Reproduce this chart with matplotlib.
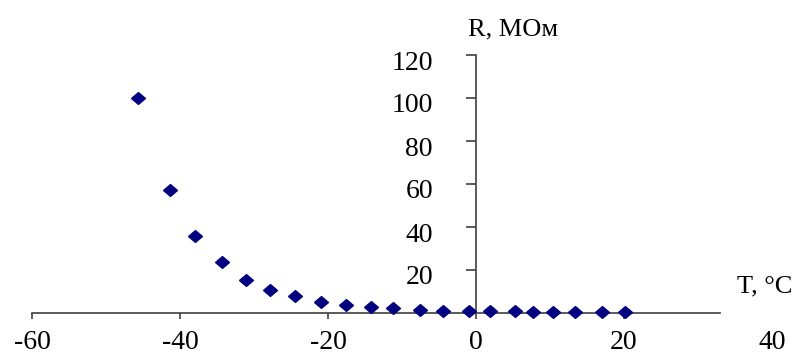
import matplotlib
matplotlib.use("Agg")
import matplotlib.pyplot as plt
import matplotlib.transforms as mtransforms

# temperature, deg C  /  resistance, MOhm
temps = [-45.7, -41.4, -38.0, -34.3, -31.1, -27.8, -24.5, -21.0, -17.6, -14.2, -11.2,
         -7.6, -4.5, -0.9, 1.9, 5.3, 7.7, 10.4, 13.4, 17.0, 20.1]
resist = [100, 57, 36, 23.6, 15.5, 10.5, 7.7, 5.3, 3.9, 2.9, 2.3,
          1.4, 0.8, 0.9, 0.9, 0.9, 0.3, 0.3, 0.3, 0.3, 0.3]
xticks = [-60, -40, -20, 0, 20, 40]
yticks = [20, 40, 60, 80, 100, 120]

plt.rcParams["font.family"] = ["Liberation Serif", "DejaVu Serif"]
plt.rcParams["axes.unicode_minus"] = False

W, H = 808, 360
fig = plt.figure(figsize=(W / 100, H / 100), dpi=100)
ax = fig.add_axes([32 / W, 1 - 313 / H, (772 - 32) / W, 258 / H])

diamond = [(-1, 0), (0, 0.85), (1, 0), (0, -0.85), (-1, 0)]
ax.plot(temps, resist, linestyle="none", marker=diamond, color="#000080",
        markersize=10, clip_on=False, zorder=3)

ax.set_xlim(-60, 40)
ax.set_ylim(0, 120)
ax.spines["top"].set_visible(False)
ax.spines["right"].set_visible(False)
ax.spines["left"].set_position(("data", 0))
ax.spines["bottom"].set_bounds(-60, 33)
for s in ("left", "bottom"):
    ax.spines[s].set_color("#404040")
    ax.spines[s].set_linewidth(1.2)

ax.set_xticks(xticks)
ax.set_yticks(yticks)
ax.tick_params(axis="x", direction="out", length=4.5, width=1.2, pad=8,
               labelsize=20, color="#404040")
ax.tick_params(axis="y", direction="out", length=7, width=1.2, pad=24,
               labelsize=20, color="#404040")
ax.xaxis.get_major_ticks()[-1].tick1line.set_visible(False)

shift = mtransforms.ScaledTranslation(0, -0.05, fig.dpi_scale_trans)
for lab in ax.get_yticklabels():
    lab.set_transform(lab.get_transform() + shift)

fig.text(468 / W, 1 - 35 / H, "R, МОм", fontsize=19, ha="left", va="baseline")
fig.text(737 / W, 1 - 292 / H, "T, °C", fontsize=19, ha="left", va="baseline")

fig.savefig("out.png", dpi=100)
